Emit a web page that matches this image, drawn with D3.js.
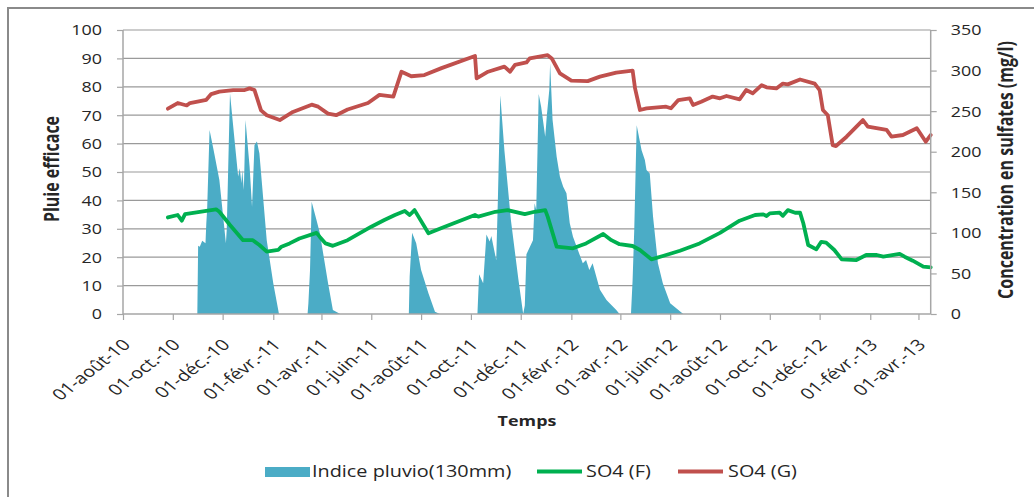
<!DOCTYPE html>
<html><head><meta charset="utf-8">
<script src="https://cdn.jsdelivr.net/npm/d3@7"></script>
<style>
body{margin:0;background:#fff}
svg{display:block}
text{font-family:"Open Sans",sans-serif;fill:#262626}
</style>
</head><body>
<svg id="chart" width="1034" height="497"></svg>
<script>
// ---------- data ----------
const xDomain = ["2010-08-01", "2013-04-16"];
const xTickDates = ["2010-08-01","2010-10-01","2010-12-01","2011-02-01","2011-04-01","2011-06-01","2011-08-01","2011-10-01","2011-12-01","2012-02-01","2012-04-01","2012-06-01","2012-08-01","2012-10-01","2012-12-01","2013-02-01","2013-04-01"];
const xTickLabels = ["01-août-10","01-oct.-10","01-déc.-10","01-févr.-11","01-avr.-11","01-juin-11","01-août-11","01-oct.-11","01-déc.-11","01-févr.-12","01-avr.-12","01-juin-12","01-août-12","01-oct.-12","01-déc.-12","01-févr.-13","01-avr.-13"];
const leftTicks = [0,10,20,30,40,50,60,70,80,90,100];
const rightTicks = [0,50,100,150,200,250,300,350];

// Indice pluvio (130mm) - left axis
const pluvio = [
 ["2010-09-25",0],["2010-10-31",0],["2010-11-01",24],["2010-11-03",23.7],["2010-11-06",25.8],["2010-11-10",24.9],
 ["2010-11-11",31.9],["2010-11-12",36.6],["2010-11-15",64.8],["2010-11-20",57.7],["2010-11-27",47.2],["2010-12-05",24.9],
 ["2010-12-06",29.6],["2010-12-10",77.7],["2010-12-16",60],["2010-12-20",48.4],["2010-12-22",51.3],["2010-12-24",46],
 ["2010-12-25",50.7],["2010-12-27",43.7],["2010-12-29",68.3],["2011-01-03",51.9],["2011-01-06",37.8],["2011-01-09",59.5],
 ["2011-01-12",60.7],["2011-01-15",56.6],["2011-01-24",26],["2011-02-01",10.8],["2011-02-08",0],
 ["2011-03-15",0],["2011-03-16",3.8],["2011-03-18",15.5],["2011-03-20",39.5],["2011-03-26",33],["2011-03-30",28.5],
 ["2011-04-09",11],["2011-04-15",1.4],["2011-04-24",0],
 ["2011-07-17",0],["2011-07-18",13.1],["2011-07-21",28.6],["2011-07-26",24.9],["2011-08-01",15.5],["2011-08-10",7.3],
 ["2011-08-18",0.8],["2011-08-24",0],
 ["2011-10-09",0],["2011-10-11",14],["2011-10-16",10.8],["2011-10-20",28],["2011-10-24",25.5],["2011-10-26",27.5],
 ["2011-11-01",19],["2011-11-03",40],["2011-11-06",77],["2011-11-11",57.7],["2011-11-19",33],["2011-11-28",12.5],
 ["2011-12-04",0],["2011-12-06",3],["2011-12-08",21],["2011-12-12",23.5],["2011-12-16",26],["2011-12-18",39],
 ["2011-12-20",36.6],["2011-12-23",77.5],["2011-12-26",73],["2011-12-31",62.4],["2012-01-02",70],["2012-01-05",79],
 ["2012-01-06",88.3],["2012-01-09",68.3],["2012-01-14",55.4],["2012-01-18",48.3],["2012-01-22",44.8],["2012-01-26",42.5],
 ["2012-01-30",32],["2012-02-03",27.2],["2012-02-09",22.5],["2012-02-15",17.9],["2012-02-19",19],["2012-02-23",15.5],
 ["2012-02-27",17.9],["2012-03-07",8.5],["2012-03-15",4.9],["2012-03-27",1.4],["2012-03-31",0],
 ["2012-04-14",0],["2012-04-16",12],["2012-04-18",29.6],["2012-04-21",66.5],["2012-04-27",57.7],["2012-05-01",54.2],
 ["2012-05-03",50.7],["2012-05-07",49.5],["2012-05-11",34.3],["2012-05-17",17.9],["2012-05-23",10.8],["2012-06-01",3.8],
 ["2012-06-17",0],["2013-04-16",0]
];

// SO4 (F) - right axis
const so4F = [
 ["2010-09-25",119],["2010-10-07",122],["2010-10-12",115],["2010-10-16",123],["2010-11-03",126],["2010-11-23",129],
 ["2010-11-27",126],["2010-12-10",109.7],["2010-12-26",91],["2011-01-07",91],["2011-01-15",85],["2011-01-24",76.8],
 ["2011-02-07",78.9],["2011-02-11",83],["2011-02-21",87],["2011-03-05",93],["2011-03-26",100],["2011-03-30",95],
 ["2011-04-06",87],["2011-04-15",84],["2011-05-03",91],["2011-06-01",107.6],["2011-06-17",115.8],["2011-06-30",122],
 ["2011-07-12",127],["2011-07-18",122],["2011-07-24",128],["2011-08-10",99.4],["2011-08-30",107.6],["2011-10-06",122],
 ["2011-10-10",120],["2011-10-31",126],["2011-11-15",128],["2011-12-06",123],["2011-12-18",126],["2011-12-31",128],
 ["2012-01-03",120],["2012-01-14",83],["2012-02-03",81],["2012-02-19",87],["2012-03-11",98.6],["2012-03-21",91],
 ["2012-03-31",86],["2012-04-16",83.8],["2012-04-25",78.9],["2012-05-09",67.4],["2012-05-23",71.5],["2012-06-13",78],
 ["2012-07-07",87],["2012-08-01",100],["2012-08-25",115],["2012-09-13",122],["2012-09-23",122.8],["2012-09-27",120.8],
 ["2012-10-01",124],["2012-10-13",125],["2012-10-17",121],["2012-10-23",128],["2012-11-01",124.8],["2012-11-07",125],
 ["2012-11-11",111.8],["2012-11-17",85],["2012-11-27",79.7],["2012-12-03",89],["2012-12-09",88],["2012-12-19",78.9],
 ["2012-12-28",67.4],["2013-01-15",66.5],["2013-01-27",72.7],["2013-02-09",72.7],["2013-02-17",70.6],["2013-03-09",74],
 ["2013-03-15",70.6],["2013-03-25",65.7],["2013-04-07",58.3],["2013-04-16",57.5]
];

// SO4 (G) - right axis
const so4G = [
 ["2010-09-25",253],["2010-10-07",260],["2010-10-18",257],["2010-10-22",260],["2010-11-11",264],["2010-11-17",271],
 ["2010-11-27",274],["2010-12-14",276],["2010-12-28",276],["2011-01-03",278],["2011-01-09",276],["2011-01-17",251],
 ["2011-01-24",245],["2011-02-09",239],["2011-02-25",249],["2011-03-20",258],["2011-03-28",255.5],["2011-04-09",247],
 ["2011-04-19",245],["2011-05-03",252],["2011-05-28",260],["2011-06-11",270],["2011-06-28",268],["2011-07-08",298.6],
 ["2011-07-20",293],["2011-08-05",294.5],["2011-08-26",303],["2011-10-06",318],["2011-10-08",290.5],["2011-10-22",298.6],
 ["2011-11-11",304.8],["2011-11-18",298.6],["2011-11-24",307],["2011-12-08",310],["2011-12-12",315],["2012-01-03",319],
 ["2012-01-08",315],["2012-01-18",296.6],["2012-02-01",287.5],["2012-02-21",287],["2012-03-07",292.5],["2012-03-27",297.4],
 ["2012-04-16",300],["2012-04-19",278],["2012-04-25",251.4],["2012-05-03",253.5],["2012-05-27",255.5],["2012-06-02",253.5],
 ["2012-06-11",263.7],["2012-06-25",265.8],["2012-06-29",257.6],["2012-07-09",261.6],["2012-07-23",268],["2012-08-01",265.8],
 ["2012-08-09",268.7],["2012-08-25",264.6],["2012-09-02",276],["2012-09-10",272],["2012-09-21",282],["2012-09-27",279.4],
 ["2012-10-09",278],["2012-10-17",284],["2012-10-23",283],["2012-11-07",289],["2012-11-25",284],["2012-12-01",276],
 ["2012-12-05",251.4],["2012-12-11",245],["2012-12-17",208],["2012-12-21",207],["2013-01-03",218.5],["2013-01-23",239],
 ["2013-01-29",231],["2013-02-21",226.8],["2013-02-27",218.5],["2013-03-13",220.6],["2013-03-30",228.9],["2013-04-10",212.3],
 ["2013-04-16",220.6]
];

const legendLabels = ["Indice pluvio(130mm)","SO4 (F)","SO4 (G)"];
const colors = {pluvio:"#4BACC6", f:"#00B050", g:"#C0504D"};

// ---------- layout ----------
const SX = 1.28; // horizontal stretch of the text, as in the reference
const M = {left:123, right:930.7, top:30, bottom:314};
const parse = d3.utcParse("%Y-%m-%d");
const svg = d3.select("#chart");
const textColor = "#262626";

svg.append("rect").attr("x",8).attr("y",8).attr("width",1100).attr("height",600)
  .attr("fill","#fff").attr("stroke","#8a8a8a").attr("stroke-width",2);

const x = d3.scaleUtc().domain(xDomain.map(parse)).range([M.left, M.right]);
const yL = d3.scaleLinear().domain([0,100]).range([M.bottom, M.top]);
const yR = d3.scaleLinear().domain([0,350]).range([M.bottom, M.top]);

// gridlines
svg.append("g").selectAll("line").data(leftTicks.filter(d=>d>0)).join("line")
  .attr("x1",M.left).attr("x2",M.right).attr("y1",d=>yL(d)).attr("y2",d=>yL(d))
  .attr("stroke","#9a9a9a").attr("stroke-width",1.2);

// area
const area = d3.area().x(d=>x(parse(d[0]))).y0(yL(0)).y1(d=>yL(d[1]));
svg.append("path").datum(pluvio).attr("d",area).attr("fill",colors.pluvio);

// lines
const line = d3.line().x(d=>x(parse(d[0]))).y(d=>yR(d[1]));
svg.append("path").datum(so4F).attr("d",line).attr("fill","none").attr("stroke",colors.f)
  .attr("stroke-width",3.8).attr("stroke-linejoin","round").attr("stroke-linecap","round");
svg.append("path").datum(so4G).attr("d",line).attr("fill","none").attr("stroke",colors.g)
  .attr("stroke-width",3.8).attr("stroke-linejoin","round").attr("stroke-linecap","round");

// axes
const axisColor = "#a6a6a6";
const gL = svg.append("g").attr("transform",`translate(${M.left},0)`)
  .call(d3.axisLeft(yL).tickValues(leftTicks).tickSize(6).tickFormat(d3.format("d")));
gL.selectAll("text").attr("x",null).attr("dy","0.35em")
  .attr("transform","translate(-21,0) scale("+SX+",1)").style("font-size","14px").style("font-family","Open Sans").attr("fill",textColor);

const gR = svg.append("g").attr("transform",`translate(${M.right},0)`)
  .call(d3.axisRight(yR).tickValues(rightTicks).tickSize(6).tickFormat(d3.format("d")));
gR.selectAll("text").attr("x",null).attr("dy","0.35em")
  .attr("transform","translate(20,0) scale("+SX+",1)").style("font-size","14px").style("font-family","Open Sans").attr("fill",textColor);

const gX = svg.append("g").attr("transform",`translate(0,${M.bottom})`)
  .call(d3.axisBottom(x).tickValues(xTickDates.map(parse)).tickSize(6).tickFormat((d,i)=>xTickLabels[i]));
gX.selectAll("text").attr("y",null).attr("dy","0.35em").attr("text-anchor","end")
  .attr("transform","translate(3,28) scale("+SX+",1) rotate(-45)").style("font-size","15.5px").style("font-family","Open Sans").attr("fill",textColor);

[gL,gR,gX].forEach(g=>{
  g.selectAll(".domain").attr("stroke",axisColor).attr("stroke-width",1.5);
  g.selectAll(".tick line").attr("stroke",axisColor).attr("stroke-width",1.2);
});
gL.select(".domain").attr("d",`M0,${M.top}V${M.bottom}`);
gR.select(".domain").attr("d",`M0,${M.top}V${M.bottom}`);
gX.select(".domain").attr("d",`M${M.left},0H${M.right}`);

// axis titles
svg.append("text").attr("transform",`translate(52,169) scale(${SX},1) rotate(-90)`)
  .attr("text-anchor","middle").attr("dy","0.35em").style("font-size","16px").style("font-weight","bold").attr("fill","#111")
  .text("Pluie efficace");
svg.append("text").attr("transform",`translate(1006,170) scale(${SX},1) rotate(-90)`)
  .attr("text-anchor","middle").attr("dy","0.35em").style("font-size","16px").style("font-weight","bold").attr("fill","#111")
  .text("Concentration en sulfates (mg/l)");
svg.append("text").attr("transform",`translate(527,421) scale(${SX},1)`)
  .attr("text-anchor","middle").attr("dy","0.35em").style("font-size","14px").style("font-weight","bold").attr("fill","#111")
  .text("Temps");

// legend
const lg = svg.append("g");
lg.append("rect").attr("x",265).attr("y",467).attr("width",45).attr("height",10).attr("fill",colors.pluvio);
lg.append("line").attr("x1",537).attr("x2",582).attr("y1",471.5).attr("y2",471.5).attr("stroke",colors.f).attr("stroke-width",3.8);
lg.append("line").attr("x1",678).attr("x2",723).attr("y1",471.5).attr("y2",471.5).attr("stroke",colors.g).attr("stroke-width",3.8);
const lx = [312, 586, 728];
legendLabels.forEach((t,i)=>{
  lg.append("text").attr("transform",`translate(${lx[i]},471.5) scale(${SX},1)`).attr("dy","0.35em")
    .style("font-size","15.5px").attr("fill",textColor).text(t);
});
</script>
</body></html>
